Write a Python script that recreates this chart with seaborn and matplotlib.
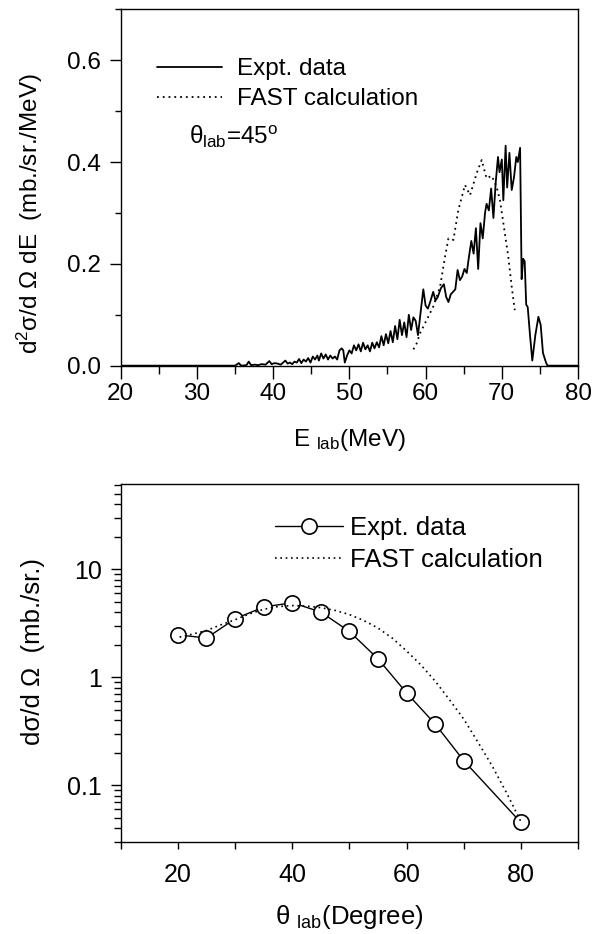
import numpy as np
import matplotlib
matplotlib.use("Agg")
import matplotlib.pyplot as plt
import matplotlib.ticker as mticker
import seaborn as sns

# ---------------- data ----------------
# Top panel: double differential spectrum at theta_lab = 45 deg
expt_E = [20.0, 35.0, 35.5, 35.8, 36.5, 36.8, 37.1, 37.6, 38.0, 38.5, 39.0, 39.5, 39.8,
          40.2, 40.6, 41.0, 41.3, 41.6, 41.9, 42.2, 42.5, 42.8, 43.1, 43.4, 43.7,
          44.0, 44.3, 44.6, 44.9, 45.2, 45.5, 45.8, 46.0, 46.3, 46.6, 46.9, 47.2,
          47.5, 47.8, 48.1, 48.4, 48.7, 49.0, 49.2, 49.4, 49.7, 50.0, 50.3, 50.6,
          50.9, 51.2, 51.5, 51.8, 52.1, 52.4, 52.7, 53.0, 53.3, 53.6, 53.9, 54.2,
          54.5, 54.8, 55.1, 55.4, 55.7, 56.0, 56.3, 56.6, 56.9, 57.2, 57.5, 57.8,
          58.1, 58.4, 58.7, 59.0, 59.3, 59.7, 60.0, 60.3, 60.6, 61.0, 61.3, 61.6,
          62.0, 62.4, 62.7, 63.0, 63.3, 63.6, 63.9, 64.2, 64.5, 64.8, 65.1, 65.4,
          65.7, 66.0, 66.3, 66.6, 66.9, 67.2, 67.5, 67.8, 68.0, 68.3, 68.6, 68.9,
          69.2, 69.5, 69.7, 70.0, 70.2, 70.5, 70.7, 71.0, 71.3, 71.6, 71.9, 72.1,
          72.4, 72.6, 72.8, 73.0, 73.2, 73.4, 73.7, 74.0, 74.4, 74.8, 75.1, 75.4,
          75.8, 76.0, 80.0]
expt_v = [0.0, 0.0, 0.005, 0.0, 0.001, 0.008, 0.001, 0.002, 0.001, 0.003, 0.002, 0.009, 0.003,
          0.005, 0.004, 0.002, 0.006, 0.010, 0.004, 0.006, 0.003, 0.008, 0.006, 0.013, 0.005,
          0.012, 0.008, 0.015, 0.006, 0.018, 0.012, 0.020, 0.010, 0.024, 0.014, 0.022, 0.012,
          0.020, 0.014, 0.018, 0.012, 0.030, 0.034, 0.030, 0.006, 0.020, 0.030, 0.024, 0.040,
          0.030, 0.042, 0.028, 0.045, 0.032, 0.040, 0.028, 0.045, 0.034, 0.046, 0.036, 0.058,
          0.040, 0.062, 0.044, 0.068, 0.046, 0.078, 0.052, 0.090, 0.060, 0.085, 0.056, 0.100,
          0.070, 0.095, 0.088, 0.060, 0.098, 0.150, 0.118, 0.112, 0.125, 0.145, 0.128, 0.135,
          0.152, 0.160, 0.135, 0.125, 0.140, 0.145, 0.150, 0.188, 0.168, 0.175, 0.190, 0.182,
          0.215, 0.245, 0.220, 0.270, 0.190, 0.280, 0.250, 0.300, 0.318, 0.305, 0.348, 0.290,
          0.360, 0.410, 0.380, 0.405, 0.325, 0.432, 0.350, 0.418, 0.345, 0.370, 0.410, 0.400,
          0.428, 0.170, 0.210, 0.205, 0.120, 0.115, 0.060, 0.010, 0.060, 0.096, 0.080, 0.025,
          0.006, 0.000, 0.0]

fast_E = [58.4, 58.84, 59.28, 60.15, 61.0, 61.9, 62.55, 63.0, 63.65, 64.3, 65.17, 65.83,
          66.7, 67.36, 68.0, 68.67, 69.3, 69.76, 70.4, 70.85, 71.3, 71.7]
fast_v = [0.032, 0.044, 0.064, 0.090, 0.116, 0.155, 0.214, 0.250, 0.247, 0.306, 0.355, 0.335,
          0.378, 0.404, 0.368, 0.373, 0.352, 0.325, 0.260, 0.214, 0.155, 0.109]

# Bottom panel: angular distribution
ang_theta = [20, 25, 30, 35, 40, 45, 50, 55, 60, 65, 70, 80]
ang_expt = [2.47, 2.30, 3.47, 4.46, 4.89, 4.01, 2.65, 1.48, 0.716, 0.369, 0.169, 0.0452]

fast_theta = [20.3, 22.5, 25, 27.5, 30, 32.5, 35, 37.5, 40, 42.5, 45, 47.5, 50, 52.5, 55,
              57.5, 60, 62.5, 65, 67.5, 70, 72.5, 75, 77.5, 80]
fast_ang = [2.35, 2.5, 2.7, 3.05, 3.4, 3.85, 4.25, 4.5, 4.6, 4.55, 4.4, 4.15, 3.8, 3.35, 2.85,
            2.3, 1.75, 1.3, 0.92, 0.62, 0.41, 0.25, 0.15, 0.085, 0.046]

# ---------------- style ----------------
sns.set_theme(style="ticks")
plt.rcParams["font.family"] = ["Liberation Sans", "DejaVu Sans"]
plt.rcParams["mathtext.fontset"] = "custom"
plt.rcParams["mathtext.rm"] = "Liberation Sans"
plt.rcParams["mathtext.it"] = "Liberation Sans"
plt.rcParams["mathtext.default"] = "regular"
plt.rcParams["axes.linewidth"] = 1.0
plt.rcParams["text.color"] = "black"
plt.rcParams["axes.labelcolor"] = "black"
plt.rcParams["xtick.color"] = "black"
plt.rcParams["ytick.color"] = "black"

fig = plt.figure(figsize=(5.92, 9.34), dpi=100)
ax1 = fig.add_axes([0.2039, 0.6085, 0.7725, 0.3815])
ax2 = fig.add_axes([0.2039, 0.0988, 0.7725, 0.3827])

for ax in (ax1, ax2):
    ax.set_facecolor("white")
    for s in ax.spines.values():
        s.set_visible(True)
        s.set_color("black")
        s.set_linewidth(1.0)
    ax.grid(False)

# ---- top panel ----
sns.lineplot(x=expt_E, y=expt_v, ax=ax1, color="black", lw=1.3, estimator=None,
             sort=False, label="Expt. data")
sns.lineplot(x=fast_E, y=fast_v, ax=ax1, color="black", lw=1.3, estimator=None,
             sort=False, label="FAST calculation", linestyle=(0, (1, 2.2)))
ax1.set_xlim(20, 80)
ax1.set_ylim(0, 0.7)
ax1.xaxis.set_major_locator(mticker.MultipleLocator(10))
ax1.xaxis.set_minor_locator(mticker.MultipleLocator(5))
ax1.yaxis.set_major_locator(mticker.MultipleLocator(0.2))
ax1.yaxis.set_minor_locator(mticker.MultipleLocator(0.1))
ax1.yaxis.set_major_formatter(mticker.FormatStrFormatter("%.1f"))
ax1.tick_params(axis="x", which="major", direction="out", length=9.5, width=1.0,
                labelsize=17.5, pad=3, colors="black")
ax1.tick_params(axis="x", which="minor", direction="out", length=5.5, width=1.0)
ax1.tick_params(axis="y", which="major", direction="out", length=8, width=1.0,
                labelsize=17.5, pad=6, colors="black")
ax1.tick_params(axis="y", which="minor", direction="out", length=4, width=1.0)
ax1.set_xlabel("E $_{lab}$(MeV)", fontsize=17.5, labelpad=16, color="black")
ax1.set_ylabel("d$^{2}$σ/d Ω dE  (mb./sr./MeV)", fontsize=17.5, color="black")
ax1.yaxis.set_label_coords(-0.166, 0.428)
ax1.legend(loc="upper left", bbox_to_anchor=(0.079, 0.863), frameon=False,
           fontsize=17.5, handlelength=2.7, handletextpad=0.58, labelspacing=0.33,
           borderpad=0, borderaxespad=0)
ax1.text(0.149, 0.642, "θ$_{lab}$=45$^{ o}$", transform=ax1.transAxes, fontsize=17.5,
         ha="left", va="center", color="black")

# ---- bottom panel ----
sns.lineplot(x=ang_theta, y=ang_expt, ax=ax2, color="black", lw=1.0, estimator=None,
             sort=False, marker="o", markersize=11, markerfacecolor="white",
             markeredgecolor="black", markeredgewidth=1.2, label="Expt. data")
sns.lineplot(x=fast_theta, y=fast_ang, ax=ax2, color="black", lw=1.2, estimator=None,
             sort=False, linestyle=(0, (1, 2.2)), label="FAST calculation")
ax2.set_yscale("log")
ax2.set_xlim(10, 90)
ax2.set_ylim(0.03, 61)
ax2.xaxis.set_major_locator(mticker.MultipleLocator(20))
ax2.xaxis.set_minor_locator(mticker.MultipleLocator(10))
ax2.yaxis.set_major_locator(mticker.FixedLocator([0.1, 1, 10]))
ax2.yaxis.set_major_formatter(mticker.FixedFormatter(["0.1", "1", "10"]))
ax2.yaxis.set_minor_locator(mticker.LogLocator(base=10, subs=np.arange(2, 10), numticks=20))
ax2.yaxis.set_minor_formatter(mticker.NullFormatter())
ax2.tick_params(axis="x", which="both", direction="out", length=5, width=1.0,
                labelsize=18, pad=10, colors="black")
ax2.tick_params(axis="y", which="major", direction="out", length=7.5, width=1.0,
                labelsize=18, pad=6, colors="black")
ax2.tick_params(axis="y", which="minor", direction="out", length=5, width=1.0)
ax2.set_xlabel("θ $_{lab}$(Degree)", fontsize=18.5, labelpad=12, color="black")
ax2.set_ylabel("dσ/d Ω  (mb./sr.)", fontsize=18.5, color="black")
ax2.yaxis.set_label_coords(-0.166, 0.532)
ax2.legend(loc="upper left", bbox_to_anchor=(0.338, 0.912), frameon=False,
           fontsize=18.5, handlelength=2.65, handletextpad=0.25, labelspacing=0.32,
           borderpad=0, borderaxespad=0)

fig.savefig("out.png", dpi=100, facecolor="white")
